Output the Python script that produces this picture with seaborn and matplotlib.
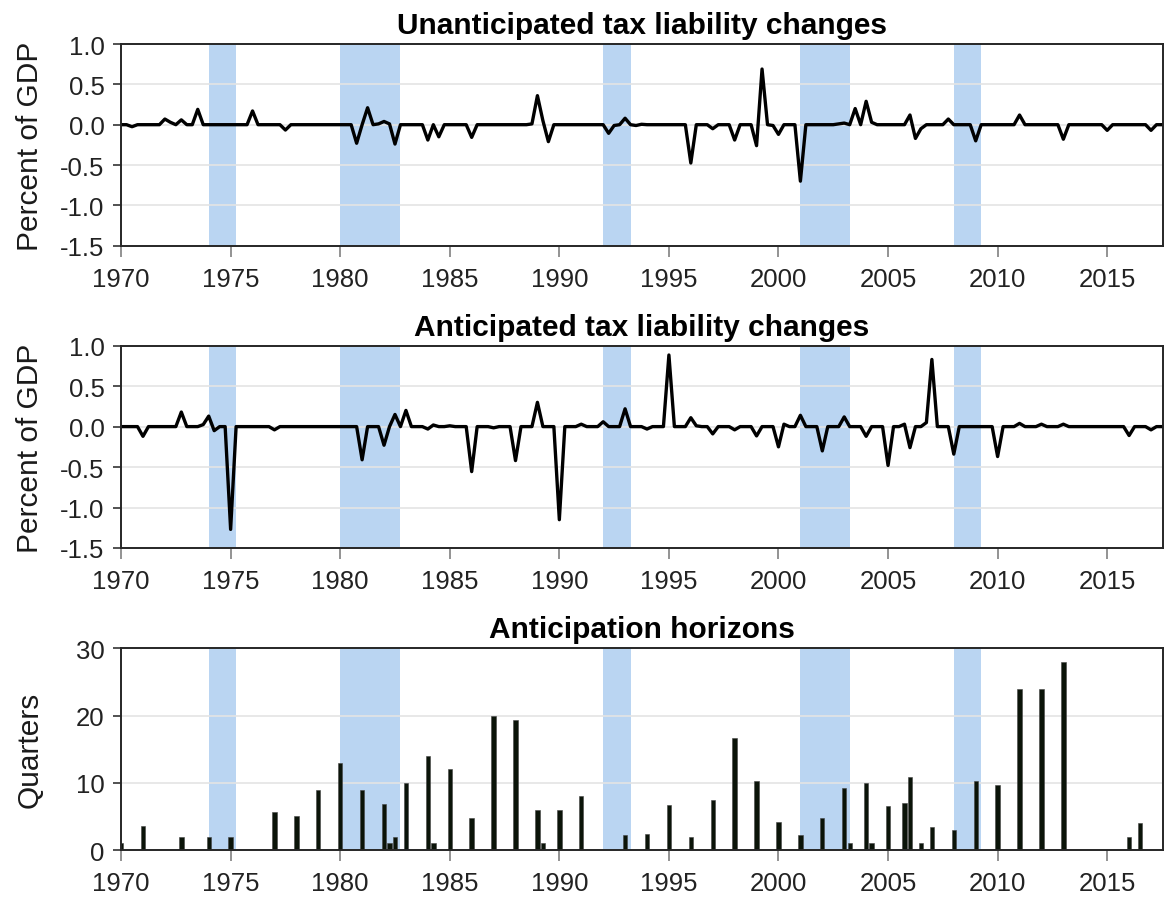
import matplotlib
matplotlib.use("Agg")
import matplotlib.pyplot as plt
from matplotlib.ticker import FormatStrFormatter
import seaborn as sns
import numpy as np
import pandas as pd

# quarterly sample, 1970Q1 - 2017Q4
start_year = 1970
end_year = 2017.75

# shaded periods (start, end) in fractional years
shade_start = [1974.0, 1980.0, 1992.0, 2001.0, 2008.0]
shade_end = [1975.25, 1982.75, 1993.25, 2003.25, 2009.25]

# unanticipated tax liability changes, percent of GDP (quarters not listed are zero)
unant_dates = [1970.5, 1972.0, 1972.25, 1972.75, 1973.5, 1976.0, 1977.5, 1980.75, 1981.25,
               1981.75, 1982.0, 1982.25, 1982.5, 1984.0, 1984.5, 1986.0, 1988.75, 1989.0,
               1989.25, 1989.5, 1992.25, 1992.5, 1993.0, 1993.5, 1993.75, 1996.0, 1997.0,
               1998.0, 1999.0, 1999.25, 1999.75, 2000.0, 2001.0, 2002.75, 2003.0, 2003.5,
               2004.0, 2004.25, 2006.0, 2006.25, 2006.5, 2007.75, 2009.0, 2011.0, 2013.0,
               2015.0, 2017.0]
unant_vals = [-0.025, 0.07, 0.03, 0.06, 0.19, 0.17, -0.066, -0.23, 0.21,
              0.01, 0.04, 0.01, -0.24, -0.19, -0.15, -0.157, 0.01, 0.36,
              0.05, -0.21, -0.107, -0.01, 0.08, -0.01, 0.005, -0.475, -0.05,
              -0.19, -0.26, 0.69, -0.01, -0.12, -0.70, 0.01, 0.02, 0.2,
              0.29, 0.03, 0.12, -0.17, -0.05, 0.07, -0.2, 0.12, -0.18,
              -0.07, -0.07]

# anticipated tax liability changes, percent of GDP
ant_dates = [1971.0, 1972.75, 1973.75, 1974.0, 1974.25, 1975.0, 1977.0, 1981.0, 1982.0,
             1982.5, 1983.0, 1984.0, 1984.25, 1985.0, 1986.0, 1987.0, 1988.0, 1989.0,
             1990.0, 1991.0, 1992.0, 1993.0, 1994.0, 1995.0, 1996.0, 1996.25, 1997.0,
             1998.0, 1999.0, 2000.0, 2000.25, 2001.0, 2002.0, 2003.0, 2004.0, 2005.0,
             2005.75, 2006.0, 2006.75, 2007.0, 2008.0, 2010.0, 2011.0, 2012.0, 2013.0,
             2016.0, 2017.0]
ant_vals = [-0.12, 0.18, 0.025, 0.13, -0.05, -1.27, -0.04, -0.41, -0.23,
            0.15, 0.2, -0.03, 0.02, 0.01, -0.556, -0.015, -0.42, 0.3,
            -1.15, 0.03, 0.06, 0.22, -0.03, 0.885, 0.11, 0.01, -0.09,
            -0.04, -0.115, -0.25, 0.03, 0.14, -0.3, 0.12, -0.12, -0.48,
            0.03, -0.26, 0.05, 0.83, -0.34, -0.37, 0.04, 0.03, 0.03,
            -0.11, -0.04]

# anticipation horizons, quarters
hz_dates = [1970.0, 1971.0, 1972.75, 1974.0, 1975.0, 1977.0, 1978.0, 1979.0, 1980.0,
            1981.0, 1982.0, 1982.25, 1982.5, 1983.0, 1984.0, 1984.25, 1985.0, 1986.0,
            1987.0, 1988.0, 1989.0, 1989.25, 1990.0, 1991.0, 1993.0, 1994.0, 1995.0,
            1996.0, 1997.0, 1998.0, 1999.0, 2000.0, 2001.0, 2002.0, 2003.0, 2003.25,
            2004.0, 2004.25, 2005.0, 2005.75, 2006.0, 2006.5, 2007.0, 2008.0, 2009.0,
            2010.0, 2011.0, 2012.0, 2013.0, 2016.0, 2016.5]
hz_vals = [1, 3.5, 2, 2, 2, 5.6, 5, 9, 13,
           9, 6.8, 1, 2, 10, 14, 1, 12, 4.8,
           20, 19.3, 6, 1, 5.9, 8, 2.3, 2.4, 6.7,
           2, 7.5, 16.7, 10.3, 4.1, 2.2, 4.8, 9.2, 1,
           10, 1, 6.6, 7, 10.8, 1, 3.4, 3, 10.2,
           9.6, 24, 24, 28, 2, 4]

titles = ["Unanticipated tax liability changes", "Anticipated tax liability changes",
          "Anticipation horizons"]
ylabels = ["Percent of GDP", "Percent of GDP", "Quarters"]


def quarterly(dates, vals):
    idx = np.arange(start_year, end_year + 0.01, 0.25)
    s = pd.Series(vals, index=dates).reindex(idx).fillna(0.0)
    return pd.DataFrame({"date": idx, "value": s.values})


sns.set_style("white")
plt.rcParams["font.family"] = ["Liberation Sans", "DejaVu Sans"]
plt.rcParams["axes.unicode_minus"] = False
plt.rcParams["text.color"] = "#1a1a1a"
plt.rcParams["xtick.labelcolor"] = "#222222"
plt.rcParams["ytick.labelcolor"] = "#222222"

fig = plt.figure(figsize=(11.64, 9.04), dpi=100)
left, width = 0.1040, 0.8952
axes = [fig.add_axes([left, 0.7271, width, 0.2231]),
        fig.add_axes([left, 0.3927, width, 0.2238]),
        fig.add_axes([left, 0.0586, width, 0.2231])]

shade_color = "#bad5f2"

df_u = quarterly(unant_dates, unant_vals)
df_a = quarterly(ant_dates, ant_vals)
sns.lineplot(data=df_u, x="date", y="value", ax=axes[0], color="black", linewidth=2.4)
sns.lineplot(data=df_a, x="date", y="value", ax=axes[1], color="black", linewidth=2.4)

df_h = pd.DataFrame({"date": hz_dates, "value": hz_vals})
sns.barplot(data=df_h, x="date", y="value", ax=axes[2], native_scale=True,
            color="#0b1409", saturation=1, errorbar=None, width=0.8,
            edgecolor="#444444", linewidth=0.4)

for i, ax in enumerate(axes):
    for s0, s1 in zip(shade_start, shade_end):
        ax.axvspan(s0, s1, color=shade_color, lw=0, zorder=0)
    ax.set_xlim(1970, 2017.55)
    ax.set_xticks(np.arange(1970, 2016, 5))
    ax.set_xticklabels([str(y) for y in range(1970, 2016, 5)])
    if i < 2:
        ax.set_ylim(-1.5, 1.0)
        ax.set_yticks([-1.5, -1.0, -0.5, 0.0, 0.5, 1.0])
        ax.yaxis.set_major_formatter(FormatStrFormatter("%.1f"))
    else:
        ax.set_ylim(0, 30)
        ax.set_yticks([0, 10, 20, 30])
    ax.yaxis.grid(True, color="#e4e4e4", linewidth=1.2, zorder=0)
    ax.xaxis.grid(False)
    ax.set_axisbelow(True)
    ax.set_title(titles[i], fontsize=21.5, fontweight="bold", pad=8, color="black")
    ax.set_xlabel("")
    ax.set_ylabel(ylabels[i], fontsize=21.5, color="#1a1a1a")
    ax.yaxis.set_label_coords(-0.074, 0.5)
    ax.tick_params(axis="x", direction="out", length=8, width=1.2, color="#808080",
                   labelsize=18.5, pad=7, bottom=True)
    ax.tick_params(axis="y", direction="out", length=6, width=1.2, color="#333333",
                   labelsize=18.5, pad=6, left=True)
    for side in ["left", "bottom", "top", "right"]:
        ax.spines[side].set_visible(True)
        ax.spines[side].set_color("#262626")
        ax.spines[side].set_linewidth(1.4)

fig.savefig("out.png", dpi=100)
